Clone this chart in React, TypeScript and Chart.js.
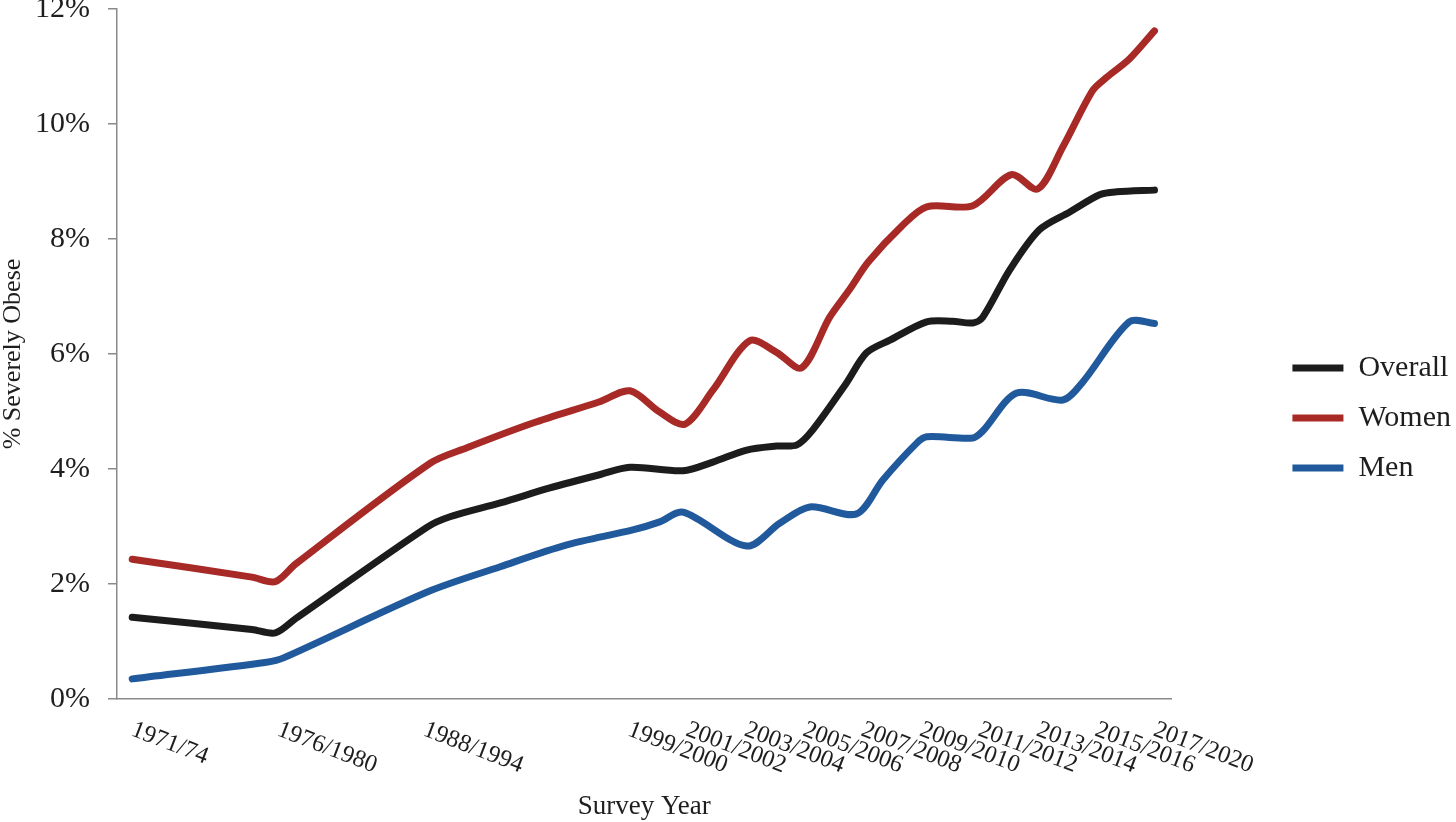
import React, { useEffect, useRef } from "react";
import { Chart, registerables } from "chart.js";

Chart.register(...registerables);

// ---- Data ----
// Positions of the survey-period labels along the x axis (axis units)
const tickPositions = [0, 2.5, 5, 8.5, 9.5, 10.5, 11.5, 12.5, 13.5, 14.5, 15.5, 16.5, 17.5];
const tickLabels = [
  "1971/74", "1976/1980", "1988/1994", "1999/2000", "2001/2002", "2003/2004",
  "2005/2006", "2007/2008", "2009/2010", "2011/2012", "2013/2014", "2015/2016", "2017/2020",
];
const seriesNames = ["Overall", "Women", "Men"];

// [x position, % severely obese]
const overallPoints: [number, number][] = [
  [0, 1.42], [2.05, 1.21], [2.45, 1.15], [2.8, 1.4], [5.05, 2.99], [5.44, 3.17], [6.3, 3.41], [7.15, 3.67],
  [8.0, 3.9], [8.52, 4.03], [9.43, 3.97], [9.94, 4.12], [10.52, 4.33], [11.03, 4.4],
  [11.38, 4.42], [11.65, 4.68], [12.23, 5.5], [12.57, 6.02], [12.97, 6.24], [13.6, 6.56],
  [14.04, 6.57], [14.39, 6.54], [14.56, 6.64], [15.02, 7.46], [15.53, 8.16], [16.05, 8.47],
  [16.56, 8.77], [16.85, 8.82], [17.5, 8.85],
];
const womenPoints: [number, number][] = [
  [0, 2.43], [2.05, 2.12], [2.45, 2.04], [2.8, 2.35], [5.1, 4.1], [5.73, 4.37], [6.86, 4.8], [8.0, 5.17],
  [8.52, 5.36], [9.03, 4.99], [9.46, 4.78], [9.94, 5.37], [10.57, 6.23], [11.03, 6.03],
  [11.46, 5.76], [11.94, 6.64], [12.28, 7.12], [12.6, 7.6], [13.17, 8.22], [13.6, 8.56],
  [14.39, 8.58], [15.05, 9.12], [15.5, 8.87], [15.93, 9.6], [16.44, 10.58], [16.68, 10.81],
  [17.07, 11.13], [17.5, 11.62],
];
const menPoints: [number, number][] = [
  [0, 0.35], [2.3, 0.64], [2.6, 0.72], [5.05, 1.86], [6.3, 2.3], [7.44, 2.68], [8.57, 2.94],
  [9.03, 3.08], [9.43, 3.25], [10.52, 2.66], [11.09, 3.06], [11.6, 3.34], [12.4, 3.22],
  [12.85, 3.81], [13.43, 4.45], [13.6, 4.56], [14.39, 4.54], [14.56, 4.66], [15.14, 5.32],
  [15.93, 5.2], [16.27, 5.51], [17.07, 6.56], [17.5, 6.53],
];

const yTicks = [0, 2, 4, 6, 8, 10, 12];

// ---- Styles ----
const FONT = '"Liberation Serif", "Times New Roman", Times, serif';
const TEXT = "#1e1e1e";
const AXIS = "#8a8a8a";
const COLORS = ["#1c1c1c", "#a82a27", "#215a9c"];

const rotatedXLabels = {
  id: "rotatedXLabels",
  afterDraw(chart: any) {
    const xs = chart.scales.x;
    const { ctx, chartArea } = chart;
    ctx.save();
    ctx.font = `24.5px ${FONT}`;
    ctx.fillStyle = TEXT;
    ctx.textAlign = "left";
    ctx.textBaseline = "middle";
    tickPositions.forEach((v, i) => {
      const px = xs.getPixelForValue(v);
      ctx.save();
      ctx.translate(px, chartArea.bottom + 30);
      ctx.rotate((21 * Math.PI) / 180);
      ctx.fillText(tickLabels[i], 0, 0);
      ctx.restore();
    });
    ctx.restore();
  },
};

export default function App() {
  const canvasRef = useRef<HTMLCanvasElement | null>(null);

  useEffect(() => {
    if (!canvasRef.current) return;
    const toXY = (pts: [number, number][]) => pts.map(([x, y]) => ({ x, y }));
    const all = [overallPoints, womenPoints, menPoints];
    const chart = new Chart(canvasRef.current, {
      type: "line",
      data: {
        datasets: all.map((pts, i) => ({
          label: seriesNames[i],
          data: toXY(pts),
          borderColor: COLORS[i],
          backgroundColor: COLORS[i],
          borderWidth: 7,
          borderCapStyle: "round",
          borderJoinStyle: "round",
          pointRadius: 0,
          pointHoverRadius: 0,
          tension: 0.3,
          fill: false,
        })),
      },
      plugins: [rotatedXLabels],
      options: {
        animation: false,
        responsive: true,
        maintainAspectRatio: false,
        layout: { padding: { left: 0, top: 0, bottom: 0, right: -5 } },
        plugins: {
          tooltip: { enabled: false },
          legend: {
            position: "right",
            title: { display: true, text: "", font: { size: 10, lineHeight: 1 }, padding: { top: 31, bottom: 0 } },
            labels: {
              usePointStyle: true,
              pointStyle: "line",
              pointStyleWidth: 51,
              padding: 20,
              color: TEXT,
              font: { family: FONT, size: 30 },
            },
          },
        },
        scales: {
          x: {
            type: "linear",
            min: -0.26,
            max: 17.79,
            grid: { display: false, drawTicks: false },
            border: { display: true, color: AXIS, width: 1.5 },
            ticks: { display: false },
            title: {
              display: true,
              text: "Survey Year",
              color: TEXT,
              font: { family: FONT, size: 27, lineHeight: 1 },
              padding: { top: 0, bottom: 2 },
            },
            afterFit: (s: any) => {
              s.height = 123;
            },
          },
          y: {
            type: "linear",
            min: 0,
            max: 12,
            afterBuildTicks: (s: any) => {
              s.ticks = yTicks.map((v) => ({ value: v }));
            },
            grid: {
              display: true,
              drawOnChartArea: false,
              drawTicks: true,
              tickLength: 9,
              tickColor: AXIS,
              tickWidth: 1.5,
              color: AXIS,
              lineWidth: 1.5,
            },
            border: { display: true, color: AXIS, width: 1.5 },
            ticks: {
              padding: 18,
              color: TEXT,
              font: { family: FONT, size: 30 },
              callback: (v: any) => `${v}%`,
            },
            title: {
              display: true,
              text: "% Severely Obese",
              color: TEXT,
              font: { family: FONT, size: 26, lineHeight: 1 },
              padding: { top: 0, bottom: 0 },
            },
            afterFit: (s: any) => {
              s.width = 117;
            },
          },
          pad: {
            type: "linear",
            position: "right",
            display: true,
            grid: { display: false, drawTicks: false },
            border: { display: false },
            ticks: { display: false },
            afterFit: (s: any) => {
              s.width = 101;
            },
          },
        },
      } as any,
    });
    return () => chart.destroy();
  }, []);

  return (
    <div style={{ position: "absolute", left: 0, top: -27, width: 1456, height: 849 }}>
      <canvas ref={canvasRef} />
    </div>
  );
}
